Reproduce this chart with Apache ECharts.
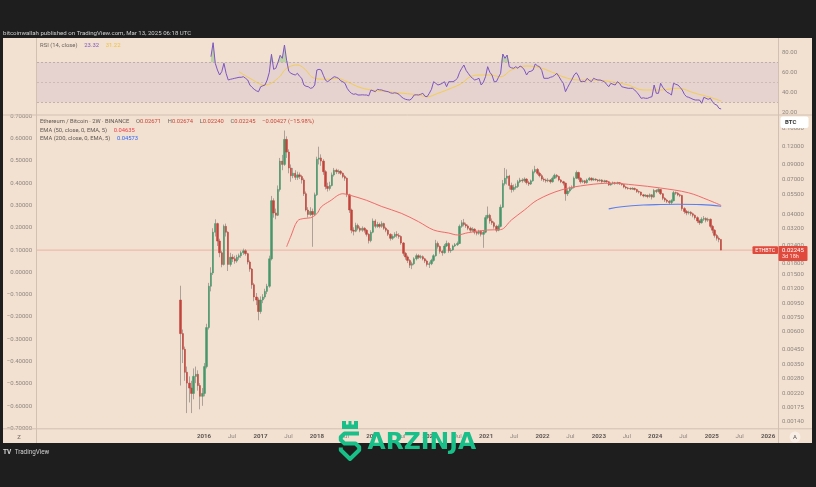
<!DOCTYPE html>
<html><head><meta charset="utf-8">
<script src="https://cdn.jsdelivr.net/npm/echarts@6/dist/echarts.min.js"></script>
<style>html,body{margin:0;padding:0;background:#1e1e1e;}#c{width:816px;height:487px;}</style>
</head><body><div id="c"></div>
<script>
// ---------- data ----------
const barStartUTC = [2015, 7, 3];   // first 2W bar (Aug 3, 2015)
const barStepDays = 14;
const opens = [
0.0100,0.0058,0.0045,0.0031,0.0026,0.0024,0.0022,0.0029,0.0030,0.0025,
0.0021,0.0022,0.0034,0.0064,0.0125,0.0155,0.0300,0.0345,0.0260,0.0215,
0.0178,0.0330,0.0300,0.0178,0.0200,0.0195,0.0188,0.0200,0.0205,0.0215,
0.0222,0.0212,0.0185,0.0165,0.0128,0.0105,0.0100,0.0083,0.0100,0.0105,
0.0115,0.0125,0.0195,0.0500,0.0410,0.0395,0.0600,0.0950,0.0900,0.1350,
0.1100,0.0850,0.0750,0.0780,0.0730,0.0760,0.0740,0.0700,0.0560,0.0430,
0.0400,0.0420,0.0400,0.0550,0.0980,0.1000,0.0950,0.0800,0.0630,0.0610,
0.0640,0.0760,0.0820,0.0800,0.0805,0.0780,0.0740,0.0720,0.0550,0.0430,
0.0310,0.0305,0.0335,0.0320,0.0310,0.0320,0.0310,0.0290,0.0262,0.0300,
0.0360,0.0330,0.0340,0.0330,0.0345,0.0320,0.0310,0.0290,0.0272,0.0280,
0.0290,0.0285,0.0280,0.0252,0.0213,0.0201,0.0190,0.0176,0.0180,0.0195,
0.0205,0.0200,0.0202,0.0195,0.0188,0.0178,0.0180,0.0190,0.0205,0.0250,
0.0238,0.0220,0.0215,0.0240,0.0250,0.0222,0.0225,0.0240,0.0245,0.0250,
0.0330,0.0350,0.0340,0.0332,0.0320,0.0310,0.0315,0.0300,0.0295,0.0305,
0.0290,0.0300,0.0380,0.0395,0.0360,0.0350,0.0330,0.0310,0.0330,0.0450,
0.0660,0.0720,0.0745,0.0640,0.0600,0.0620,0.0630,0.0680,0.0700,0.0690,
0.0710,0.0670,0.0655,0.0690,0.0800,0.0830,0.0780,0.0750,0.0710,0.0700,
0.0690,0.0700,0.0680,0.0720,0.0755,0.0740,0.0700,0.0680,0.0665,0.0560,
0.0585,0.0610,0.0620,0.0720,0.0790,0.0720,0.0680,0.0690,0.0670,0.0700,
0.0720,0.0700,0.0710,0.0700,0.0690,0.0700,0.0680,0.0690,0.0680,0.0645,
0.0660,0.0670,0.0660,0.0670,0.0660,0.0650,0.0625,0.0615,0.0610,0.0605,
0.0610,0.0600,0.0580,0.0575,0.0550,0.0540,0.0545,0.0535,0.0550,0.0530,
0.0590,0.0580,0.0600,0.0560,0.0520,0.0505,0.0495,0.0485,0.0500,0.0570,
0.0565,0.0550,0.0545,0.0440,0.0420,0.0410,0.0415,0.0405,0.0395,0.0380,
0.0360,0.0350,0.0370,0.0375,0.0365,0.0370,0.0330,0.0310,0.0285,0.0272,
0.02671];
const highs = [
0.0126,0.0062,0.0047,0.0034,0.0029,0.0027,0.0033,0.0034,0.0032,0.0026,
0.0024,0.0036,0.0068,0.0132,0.0170,0.0320,0.0370,0.0350,0.0270,0.0222,
0.0340,0.0345,0.0305,0.0215,0.0210,0.0205,0.0208,0.0212,0.0222,0.0230,
0.0228,0.0215,0.0190,0.0168,0.0132,0.0112,0.0104,0.0106,0.0110,0.0120,
0.0130,0.0205,0.0540,0.0520,0.0440,0.0640,0.1000,0.1050,0.1560,0.1420,
0.1150,0.0900,0.0850,0.0820,0.0800,0.0790,0.0760,0.0720,0.0580,0.0450,
0.0450,0.0440,0.0570,0.1020,0.1200,0.1060,0.0980,0.0820,0.0670,0.0680,
0.0790,0.0850,0.0840,0.0830,0.0820,0.0790,0.0760,0.0730,0.0560,0.0440,
0.0325,0.0350,0.0345,0.0330,0.0330,0.0325,0.0315,0.0295,0.0310,0.0375,
0.0370,0.0355,0.0350,0.0358,0.0350,0.0328,0.0315,0.0295,0.0290,0.0300,
0.0305,0.0295,0.0285,0.0256,0.0218,0.0206,0.0194,0.0186,0.0200,0.0212,
0.0210,0.0208,0.0206,0.0198,0.0192,0.0186,0.0195,0.0210,0.0265,0.0258,
0.0242,0.0225,0.0248,0.0262,0.0255,0.0232,0.0245,0.0252,0.0258,0.0340,
0.0365,0.0372,0.0350,0.0340,0.0328,0.0325,0.0320,0.0308,0.0312,0.0310,
0.0310,0.0395,0.0455,0.0405,0.0375,0.0358,0.0338,0.0340,0.0470,0.0700,
0.0850,0.0830,0.0760,0.0670,0.0650,0.0660,0.0700,0.0725,0.0720,0.0730,
0.0720,0.0690,0.0705,0.0830,0.0880,0.0850,0.0800,0.0770,0.0730,0.0715,
0.0720,0.0710,0.0740,0.0775,0.0770,0.0750,0.0710,0.0690,0.0670,0.0610,
0.0630,0.0640,0.0740,0.0815,0.0800,0.0730,0.0705,0.0700,0.0715,0.0735,
0.0730,0.0725,0.0720,0.0710,0.0712,0.0708,0.0702,0.0698,0.0688,0.0672,
0.0682,0.0678,0.0680,0.0675,0.0668,0.0655,0.0635,0.0625,0.0620,0.0622,
0.0618,0.0606,0.0590,0.0580,0.0558,0.0556,0.0552,0.0562,0.0556,0.0605,
0.0602,0.0612,0.0605,0.0565,0.0530,0.0515,0.0505,0.0512,0.0585,0.0580,
0.0575,0.0560,0.0550,0.0450,0.0430,0.0425,0.0422,0.0412,0.0400,0.0388,
0.0368,0.0382,0.0390,0.0382,0.0380,0.0375,0.0338,0.0315,0.0292,0.0280,
0.02674];
const lows = [
0.0025,0.0036,0.0027,0.0016,0.0019,0.0016,0.0020,0.0026,0.0023,0.0017,
0.0018,0.0021,0.0033,0.0062,0.0115,0.0150,0.0280,0.0240,0.0200,0.0170,
0.0175,0.0280,0.0160,0.0172,0.0185,0.0180,0.0183,0.0192,0.0198,0.0208,
0.0205,0.0178,0.0158,0.0120,0.0098,0.0092,0.0072,0.0080,0.0095,0.0102,
0.0110,0.0122,0.0190,0.0380,0.0370,0.0390,0.0580,0.0820,0.0880,0.1000,
0.0780,0.0680,0.0720,0.0700,0.0700,0.0710,0.0660,0.0540,0.0420,0.0380,
0.0390,0.0237,0.0390,0.0540,0.0900,0.0880,0.0760,0.0600,0.0580,0.0590,
0.0630,0.0740,0.0770,0.0770,0.0760,0.0720,0.0690,0.0530,0.0410,0.0295,
0.0285,0.0300,0.0310,0.0300,0.0302,0.0298,0.0280,0.0250,0.0255,0.0295,
0.0320,0.0322,0.0320,0.0322,0.0312,0.0300,0.0282,0.0262,0.0265,0.0273,
0.0275,0.0270,0.0245,0.0205,0.0192,0.0182,0.0168,0.0165,0.0176,0.0190,
0.0194,0.0195,0.0190,0.0182,0.0172,0.0168,0.0176,0.0186,0.0202,0.0230,
0.0212,0.0205,0.0212,0.0236,0.0215,0.0215,0.0222,0.0236,0.0240,0.0248,
0.0322,0.0330,0.0322,0.0310,0.0300,0.0302,0.0290,0.0285,0.0288,0.0280,
0.0233,0.0295,0.0370,0.0345,0.0338,0.0318,0.0300,0.0305,0.0325,0.0445,
0.0640,0.0650,0.0600,0.0570,0.0580,0.0600,0.0615,0.0665,0.0670,0.0675,
0.0650,0.0635,0.0645,0.0680,0.0780,0.0760,0.0730,0.0690,0.0680,0.0670,
0.0675,0.0660,0.0670,0.0710,0.0720,0.0685,0.0665,0.0640,0.0500,0.0540,
0.0570,0.0595,0.0610,0.0710,0.0700,0.0660,0.0665,0.0655,0.0660,0.0690,
0.0685,0.0690,0.0688,0.0675,0.0680,0.0668,0.0670,0.0668,0.0635,0.0638,
0.0650,0.0648,0.0652,0.0645,0.0638,0.0612,0.0602,0.0598,0.0595,0.0596,
0.0590,0.0568,0.0562,0.0538,0.0528,0.0530,0.0520,0.0525,0.0510,0.0525,
0.0565,0.0570,0.0548,0.0505,0.0490,0.0482,0.0470,0.0472,0.0495,0.0550,
0.0538,0.0530,0.0425,0.0405,0.0395,0.0400,0.0392,0.0382,0.0368,0.0348,
0.0338,0.0345,0.0360,0.0352,0.0355,0.0320,0.0295,0.0275,0.0262,0.0255,
0.02240];
const closes = [
0.0058,0.0045,0.0031,0.0026,0.0024,0.0022,0.0029,0.0030,0.0025,0.0021,
0.0022,0.0034,0.0064,0.0125,0.0155,0.0300,0.0345,0.0260,0.0215,0.0178,
0.0330,0.0300,0.0178,0.0200,0.0195,0.0188,0.0200,0.0205,0.0215,0.0222,
0.0212,0.0185,0.0165,0.0128,0.0105,0.0100,0.0083,0.0100,0.0105,0.0115,
0.0125,0.0195,0.0500,0.0410,0.0395,0.0600,0.0950,0.0900,0.1350,0.1100,
0.0850,0.0750,0.0780,0.0730,0.0760,0.0740,0.0700,0.0560,0.0430,0.0400,
0.0420,0.0400,0.0550,0.0980,0.1000,0.0950,0.0800,0.0630,0.0610,0.0640,
0.0760,0.0820,0.0800,0.0805,0.0780,0.0740,0.0720,0.0550,0.0430,0.0310,
0.0305,0.0335,0.0320,0.0310,0.0320,0.0310,0.0290,0.0262,0.0300,0.0360,
0.0330,0.0340,0.0330,0.0345,0.0320,0.0310,0.0290,0.0272,0.0280,0.0290,
0.0285,0.0280,0.0252,0.0213,0.0201,0.0190,0.0176,0.0180,0.0195,0.0205,
0.0200,0.0202,0.0195,0.0188,0.0178,0.0180,0.0190,0.0205,0.0250,0.0238,
0.0220,0.0215,0.0240,0.0250,0.0222,0.0225,0.0240,0.0245,0.0250,0.0330,
0.0350,0.0340,0.0332,0.0320,0.0310,0.0315,0.0300,0.0295,0.0305,0.0290,
0.0300,0.0380,0.0395,0.0360,0.0350,0.0330,0.0310,0.0330,0.0450,0.0660,
0.0720,0.0745,0.0640,0.0600,0.0620,0.0630,0.0680,0.0700,0.0690,0.0710,
0.0670,0.0655,0.0690,0.0800,0.0830,0.0780,0.0750,0.0710,0.0700,0.0690,
0.0700,0.0680,0.0720,0.0755,0.0740,0.0700,0.0680,0.0665,0.0560,0.0585,
0.0610,0.0620,0.0720,0.0790,0.0720,0.0680,0.0690,0.0670,0.0700,0.0720,
0.0700,0.0710,0.0700,0.0690,0.0700,0.0680,0.0690,0.0680,0.0645,0.0660,
0.0670,0.0660,0.0670,0.0660,0.0650,0.0625,0.0615,0.0610,0.0605,0.0610,
0.0600,0.0580,0.0575,0.0550,0.0540,0.0545,0.0535,0.0550,0.0530,0.0590,
0.0580,0.0600,0.0560,0.0520,0.0505,0.0495,0.0485,0.0500,0.0570,0.0565,
0.0550,0.0545,0.0440,0.0420,0.0410,0.0415,0.0405,0.0395,0.0380,0.0360,
0.0350,0.0370,0.0375,0.0365,0.0370,0.0330,0.0310,0.0285,0.0272,0.02671,
0.02245];

const rsiStartBar = 14;
const rsiValues = [
75.6,89.6,69,62.3,57.3,60.6,69,59,52.3,53,
53.5,54,54.5,55,55,55.6,54,52.3,47.3,45,
43,41.5,40.6,45.6,46.5,47.3,52.3,60,78,63,
64,70,77,74,87.3,72,61,59,58,57.3,
59,56,54,47.3,46,45.6,44,44.5,47.3,62.3,
63,62.3,57,52,50.6,52.3,54,55.6,55,54,
51.5,50.6,49,44,41,39,38,38.5,37.3,37.3,
37.5,37.3,37.3,36.5,42.3,41.5,40.6,43,42.5,42.3,
41.5,41,40.6,39.5,39,39.5,39,38,35.6,34,
33,32.5,32.3,34,37.3,37.5,37.3,38,39,36,
35.6,39,43,50.6,49,47.3,48,49,50.6,45.6,
50.6,50.6,50.6,52,54,60,64,67.3,62,59,
56,54,52.3,53,54,47.3,50,55.6,65.6,60,
57.3,50.6,50.6,55,59,78.3,74,77.3,65.6,64.5,
64,65.6,64,66.3,65,62.3,57.3,60.6,61,62.3,
68.3,66.5,65.6,62,54,54,54,55,55.6,57,
59,55.6,52,49,40.6,45,49,53,57.3,59.6,
56.3,50.6,51,50.6,54,52,50.6,54,53,52.3,
52.3,51.5,50.6,48,45.6,49,48,47.3,50.6,49,
45.6,45,44.5,44,44,44,42.3,40,37.3,34,
34.5,34,34,35,35.6,47.3,39,39,49,45,
42.3,40,39,37.3,49,48,47.3,45,42.3,38,
35.6,35,34,33,32.3,32.3,32.3,29,35,34,
33,34,30.6,28,27.3,24,23.32];

const rsiMaBars   = [27,32,39,45,49,54,57,62,68,72,77,82,88,96,103,110,114,119,125,130,134,139,143,148,153,160,167,173,179,185,191,199,207,214,222,230,238,244,250];
const rsiMaValues = [60.6,54,47.3,54,64,67.3,64,54,53,54,50.6,45.6,42.3,40.6,39,37.3,35.6,39,44,49,55.6,57.3,57.3,55.6,62.3,66.3,64,59,54,52.3,52.3,50.6,47.3,42.3,42.3,44,39,35.6,31.22];

const ema50Bars   = [49,51,54,57,60,63,65,69,75,78,86,93,102,110,117,124,128,133,142,148,153,159,165,176,188,199,210,222,235,244,250];
const ema50Values = [0.0237,0.0282,0.0360,0.0375,0.0379,0.0405,0.0452,0.0497,0.0560,0.0548,0.0503,0.0455,0.0408,0.0356,0.0311,0.0296,0.0287,0.0298,0.0311,0.0313,0.0366,0.0430,0.0506,0.0595,0.0645,0.0664,0.0645,0.0614,0.0568,0.0506,0.04635];

const ema200Bars   = [198,204,214,222,230,241,250];
const ema200Values = [0.0438,0.0453,0.0466,0.0470,0.0472,0.0469,0.04573];

const priceTicks = [0.16,0.12,0.09,0.07,0.055,0.04,0.032,0.024,0.018,0.015,0.012,0.0095,0.0075,0.006,0.0045,0.0035,0.0028,0.0022,0.00175,0.0014];
const leftTicks  = [0.7,0.6,0.5,0.4,0.3,0.2,0.1,0,-0.1,-0.2,-0.3,-0.4,-0.5,-0.6,-0.7];
const rsiTicks   = [20,40,60,80];
const timeTickYears = [2016,2017,2018,2019,2020,2021,2022,2023,2024,2025,2026];
const lastPrice = 0.02245;
const rsiUpper = 70, rsiMid = 50, rsiLower = 30;

// ---------- build ----------
const DAY = 86400000;
const t0 = Date.UTC(barStartUTC[0], barStartUTC[1], barStartUTC[2]);
const barTimes = closes.map((_, i) => t0 + i * barStepDays * DAY);
const wickData = closes.map((c, i) => [barTimes[i], opens[i], c, lows[i], highs[i]]);
const bodyData = closes.map((c, i) => [barTimes[i], opens[i], c, Math.min(opens[i], c), Math.max(opens[i], c)]);
const rsiData = rsiValues.map((v, k) => [barTimes[rsiStartBar + k], v]);
const rsiOverData = rsiValues.map((v, k) => [barTimes[rsiStartBar + k], Math.max(v, rsiUpper)]);
const rsiMaData = rsiMaBars.map((b, k) => [barTimes[b], rsiMaValues[k]]);
const ema50Data = ema50Bars.map((b, k) => [barTimes[b], ema50Values[k]]);
const ema200Data = ema200Bars.map((b, k) => [barTimes[b], ema200Values[k]]);
const timeTicks = [];
timeTickYears.forEach(y => { timeTicks.push(Date.UTC(y, 0, 1)); if (y < 2026) timeTicks.push(Date.UTC(y, 6, 1)); });

const X_MIN = Date.UTC(2013, 0, 14, 12);
const X_MAX = Date.UTC(2026, 2, 6, 4);
const priceLineData = [[X_MIN, lastPrice], [X_MAX, lastPrice]];
const FONT = 'Roboto';
const AX = '#8e8782';
const PEACH = '#f2e0d0';
const SEP = '#d2c1b3';
const GREEN = '#47976a', RED = '#c3433a', WICK = '#a39a92';

const chart = echarts.init(document.getElementById('c'), null, {width: 816, height: 487});
const grids = [
  {left: 37, right: 38, top: 40, height: 74.5},
  {left: 37, right: 38, top: 116.3, height: 312}
];
function xAxisFor(gi, showLabels) {
  return {
    type: 'value', gridIndex: gi, min: X_MIN, max: X_MAX, scale: true,
    axisLine: {show: false}, axisTick: {show: false}, splitLine: {show: false},
    axisLabel: showLabels ? {
      customValues: timeTicks, margin: 5,
      formatter: v => { const d = new Date(v); return d.getUTCMonth() === 0 ? '{y|' + d.getUTCFullYear() + '}' : '{m|Jul}'; },
      rich: {y: {fontSize: 6.2, fontWeight: 'bold', color: '#5c5652', fontFamily: FONT}, m: {fontSize: 6.2, color: '#8e8782', fontFamily: FONT}}
    } : {show: false}
  };
}

chart.setOption({
  animation: false,
  backgroundColor: '#1e1e1e',
  grid: grids,
  xAxis: [xAxisFor(0, false), xAxisFor(1, true)],
  yAxis: [
    {type: 'value', gridIndex: 0, position: 'right', min: 17.8, max: 92.3,
     axisLine: {show: false}, axisTick: {show: false}, splitLine: {show: false},
     axisLabel: {customValues: rsiTicks, formatter: v => Number(v).toFixed(2), color: AX, fontSize: 6, fontFamily: FONT, margin: 4}},
    {type: 'value', gridIndex: 1, position: 'left', min: -0.7, max: 0.7,
     axisLine: {show: false}, axisTick: {show: false}, splitLine: {show: false},
     axisLabel: {customValues: leftTicks, formatter: v => (v < -1e-9 ? '\u2212' : '') + Math.abs(v).toFixed(5), color: AX, fontSize: 6, fontFamily: FONT, margin: 5}},
    {type: 'log', logBase: 10, gridIndex: 1, position: 'right', min: 0.00125, max: 0.1964,
     axisLine: {show: false}, axisTick: {show: false}, splitLine: {show: false},
     axisLabel: {customValues: priceTicks, formatter: v => Number(v).toFixed(5), color: AX, fontSize: 6, fontFamily: FONT, margin: 4}}
  ],
  series: [
    {type: 'line', name: 'RSI overbought', xAxisIndex: 0, yAxisIndex: 0, data: rsiOverData, showSymbol: false, silent: true, z: 2,
     lineStyle: {width: 0, opacity: 0}, areaStyle: {origin: rsiUpper, color: 'rgba(76,175,80,0.45)'}},
    {type: 'line', name: 'RSI', xAxisIndex: 0, yAxisIndex: 0, data: rsiData, showSymbol: false, z: 4,
     lineStyle: {color: '#7e57c2', width: 1},
     markArea: {silent: true, itemStyle: {color: 'rgba(126,87,194,0.10)'}, data: [[{yAxis: rsiLower}, {yAxis: rsiUpper}]]},
     markLine: {silent: true, symbol: 'none', label: {show: false},
       lineStyle: {color: 'rgba(120,110,110,0.55)', type: [2, 2], width: 0.7},
       data: [{yAxis: rsiUpper}, {yAxis: rsiMid, lineStyle: {color: 'rgba(120,110,110,0.35)', type: [2, 2], width: 0.7}}, {yAxis: rsiLower}]}},
    {type: 'line', name: 'RSI MA', xAxisIndex: 0, yAxisIndex: 0, data: rsiMaData, showSymbol: false, smooth: 0.4, z: 3,
     lineStyle: {color: '#f3cf4e', width: 1}},
    {type: 'line', name: 'last', xAxisIndex: 1, yAxisIndex: 2, data: priceLineData, showSymbol: false, silent: true, z: 1,
     lineStyle: {color: 'rgba(226,80,66,0.32)', width: 1}},
    {type: 'candlestick', name: 'wick', xAxisIndex: 1, yAxisIndex: 2, data: wickData, barWidth: 0.3, z: 2,
     itemStyle: {color: WICK, color0: WICK, borderColor: WICK, borderColor0: WICK, borderWidth: 0.9}},
    {type: 'candlestick', name: 'ETHBTC', xAxisIndex: 1, yAxisIndex: 2, data: bodyData, barWidth: 1.9, z: 3,
     itemStyle: {color: GREEN, color0: RED, borderColor: GREEN, borderColor0: RED, borderWidth: 0.5}},
    {type: 'line', name: 'EMA50', xAxisIndex: 1, yAxisIndex: 2, data: ema50Data, showSymbol: false, smooth: 0.35, z: 5,
     lineStyle: {color: '#f06b6b', width: 1}},
    {type: 'line', name: 'EMA200', xAxisIndex: 1, yAxisIndex: 2, data: ema200Data, showSymbol: false, smooth: 0.4, z: 5,
     lineStyle: {color: '#5a7ff0', width: 1.1}}
  ],
  graphic: [
    {type: 'rect', z: -10, silent: true, shape: {x: 3, y: 38, width: 809, height: 405}, style: {fill: PEACH}},
    {type: 'line', z: 1, silent: true, shape: {x1: 36.5, y1: 38, x2: 36.5, y2: 443}, style: {stroke: SEP, lineWidth: 1}},
    {type: 'line', z: 1, silent: true, shape: {x1: 778.5, y1: 38, x2: 778.5, y2: 443}, style: {stroke: SEP, lineWidth: 1}},
    {type: 'line', z: 1, silent: true, shape: {x1: 3, y1: 115, x2: 812, y2: 115}, style: {stroke: SEP, lineWidth: 1}},
    {type: 'line', z: 1, silent: true, shape: {x1: 3, y1: 428.8, x2: 812, y2: 428.8}, style: {stroke: SEP, lineWidth: 1}},
    {type: 'text', z: 50, silent: true, x: 3, y: 33, style: {text: 'bitcoinwallah published on TradingView.com, Mar 13, 2025 06:18 UTC', fill: '#cfcfcf', font: '6.1px ' + FONT, verticalAlign: 'middle'}},
    {type: 'text', z: 50, silent: true, x: 40, y: 46, style: {
      text: '{t|RSI (14, close)}  {a|23.32}  {b|31.22}', verticalAlign: 'middle',
      rich: {t: {fill: '#6b6560', font: '5.9px ' + FONT}, a: {fill: '#7e57c2', font: '5.9px ' + FONT}, b: {fill: '#ecc440', font: '5.9px ' + FONT}}}},
    {type: 'text', z: 50, silent: true, x: 40, y: 122, style: {
      text: '{t|Ethereum / Bitcoin · 2W · BINANCE}  {k|O}{v|0.02671}  {k|H}{v|0.02674}  {k|L}{v|0.02240}  {k|C}{v|0.02245}  {v|\u22120.00427 (\u221215.98%)}', verticalAlign: 'middle',
      rich: {t: {fill: '#5f5954', font: '5.8px ' + FONT}, k: {fill: '#6b6560', font: '5.8px ' + FONT}, v: {fill: '#c9473b', font: '5.8px ' + FONT}}}},
    {type: 'text', z: 50, silent: true, x: 40, y: 130.5, style: {
      text: '{t|EMA (50, close, 0, EMA, 5)}  {v|0.04635}', verticalAlign: 'middle',
      rich: {t: {fill: '#5f5954', font: '5.8px ' + FONT}, v: {fill: '#f03c4a', font: '5.8px ' + FONT}}}},
    {type: 'text', z: 50, silent: true, x: 40, y: 138.5, style: {
      text: '{t|EMA (200, close, 0, EMA, 5)}  {v|0.04573}', verticalAlign: 'middle',
      rich: {t: {fill: '#5f5954', font: '5.8px ' + FONT}, v: {fill: '#2f66ff', font: '5.8px ' + FONT}}}},
    {type: 'rect', z: 60, silent: true, shape: {x: 780.5, y: 116.5, width: 28, height: 11.5, r: 2}, style: {fill: '#ffffff'}},
    {type: 'text', z: 61, silent: true, x: 785, y: 122.3, style: {text: 'BTC', fill: '#333333', font: 'bold 6px ' + FONT, verticalAlign: 'middle'}},
    {type: 'rect', z: 60, silent: true, shape: {x: 752.5, y: 246.3, width: 25.5, height: 7.6, r: 1}, style: {fill: '#df4a3d'}},
    {type: 'text', z: 61, silent: true, x: 765.2, y: 250.3, style: {text: 'ETHBTC', fill: '#ffffff', font: '5.3px ' + FONT, align: 'center', verticalAlign: 'middle'}},
    {type: 'rect', z: 60, silent: true, shape: {x: 778.5, y: 246, width: 29, height: 15, r: 1}, style: {fill: '#df4a3d'}},
    {type: 'text', z: 61, silent: true, x: 782, y: 250.2, style: {text: '0.02245', fill: '#ffffff', font: '6px ' + FONT, verticalAlign: 'middle'}},
    {type: 'text', z: 61, silent: true, x: 782, y: 257, style: {text: '3d 18h', fill: '#ffe9e6', font: '5.5px ' + FONT, verticalAlign: 'middle'}},
    {type: 'text', z: 50, silent: true, x: 19, y: 437, style: {text: 'Z', fill: '#7a736e', font: '6px ' + FONT, align: 'center', verticalAlign: 'middle'}},
    {type: 'circle', z: 50, silent: true, shape: {cx: 795, cy: 437, r: 5.5}, style: {fill: '#f8eee5'}},
    {type: 'text', z: 51, silent: true, x: 795, y: 437.3, style: {text: 'A', fill: '#5a5450', font: '6px ' + FONT, align: 'center', verticalAlign: 'middle'}},
    {type: 'text', z: 50, silent: true, x: 3, y: 452, style: {text: '{i|TV} {t|TradingView}', verticalAlign: 'middle',
      rich: {i: {fill: '#d8d8d8', font: 'bold 6.5px ' + FONT}, t: {fill: '#d1d1d1', font: '6.3px ' + FONT}}}},
    {type: 'polygon', z: 80, silent: true, shape: {points: [[342,421],[346,421],[346,424.5],[348.5,424.5],[348.5,421],[351.5,421],[351.5,424.5],[354,424.5],[354,421],[358,421],[358,429],[342,429]]}, style: {fill: '#18bf88'}},
    {type: 'polyline', z: 80, silent: true, shape: {points: [[359,433.5],[344.5,433.5],[340.8,437],[340.8,440],[344.5,443.5],[355.5,443.5],[359.2,447],[359.2,450],[350,459],[340.8,450],[340.8,447.5]]}, style: {stroke: '#18bf88', lineWidth: 4, lineJoin: 'round', fill: null}},
    {type: 'text', z: 80, silent: true, x: 367.5, y: 442.5, style: {text: 'ARZINJA', fill: '#18bf88', font: 'bold 23.5px "DejaVu Sans"', verticalAlign: 'middle'}}
  ]
});
</script>
</body></html>
